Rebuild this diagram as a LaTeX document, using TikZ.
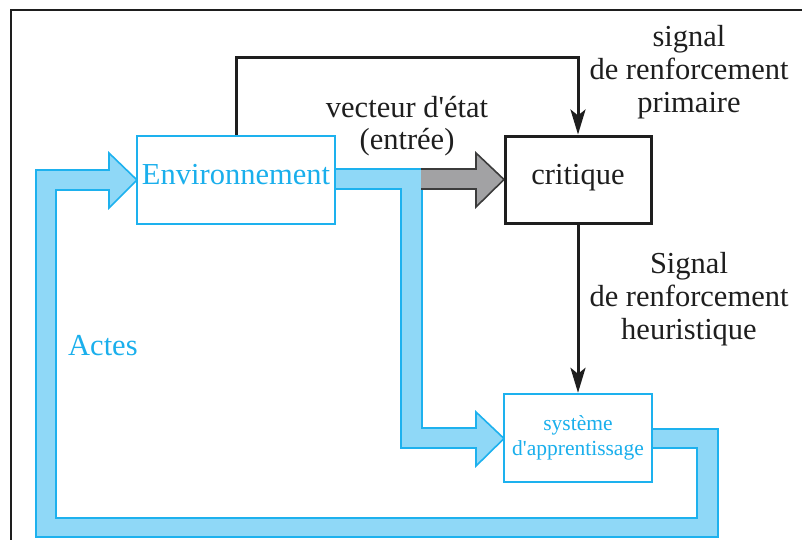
\documentclass[tikz,border=0pt]{standalone}
\usepackage{fontspec}
\setmainfont{Liberation Serif}[Ligatures=TeXOff]
\usetikzlibrary{arrows.meta}
\definecolor{cyanline}{HTML}{1DB1EE}
\definecolor{bandfill}{HTML}{8FD8F7}
\definecolor{cyantext}{HTML}{1AAFEC}
\definecolor{grayfill}{HTML}{A2A2A4}
\definecolor{grayline}{HTML}{3C3C3C}
\definecolor{ink}{HTML}{1E1E1E}
\begin{document}
\begin{tikzpicture}[x=1pt,y=-1pt,
  bigfont/.style={font=\fontsize{30.5}{32.6}\selectfont},
  smallfont/.style={font=\fontsize{21.5}{25}\selectfont},
  cbox/.style={draw=cyanline, line width=2.4pt, fill=white, inner sep=0pt, text=cyantext},
  kbox/.style={draw=ink, line width=3pt, fill=white, inner sep=0pt, text=ink},
  band/.style={fill=bandfill, draw=cyanline, line width=1.6pt, line join=miter},
  garrow/.style={draw=grayline, line width=1.6pt, line join=miter},
  sig/.style={draw=ink, line width=3pt, -{Stealth[length=25pt,width=15pt,inset=6pt]}},
  lbl/.style={bigfont, text=ink, inner sep=0pt}
]
\clip (0,0) rectangle (802,539);
% frame
\draw[ink, line width=2.4pt] (11,560) -- (11,10) -- (830,10);
% outer action loop band
\draw[band] (652,429) -- (718,429) -- (718,537) -- (36,537) -- (36,170) -- (109,170)
  -- (109,153) -- (137,180) -- (109,208) -- (109,190) -- (56,190) -- (56,518)
  -- (697,518) -- (697,448) -- (652,448) -- cycle;
% inner band towards learning system
\draw[band] (335,169) -- (422,169) -- (422,428) -- (476,428) -- (476,412) -- (504,438.5)
  -- (476,466) -- (476,448) -- (401,448) -- (401,189) -- (335,189) -- cycle;
% gray state-vector arrow
\fill[grayfill] (421.2,169) -- (476,169) -- (476,153) -- (504,179.5) -- (476,207)
  -- (476,189) -- (421.2,189) -- cycle;
\draw[garrow] (421.2,169) -- (476,169) -- (476,153) -- (504,179.5) -- (476,207)
  -- (476,189) -- (421.2,189);
% boxes
\node[cbox, bigfont, minimum width=198pt, minimum height=88pt, text height=15pt, text depth=6pt]
  (env) at (236,180) {Environnement};
\node[kbox, bigfont, minimum width=146pt, minimum height=87pt, text height=15pt, text depth=6pt]
  (crit) at (578,179.5) {critique};
\node[cbox, smallfont, minimum width=148pt, minimum height=88pt]
  (sys) at (578,438) {\begin{tabular}{@{}c@{}}système\\d'apprentissage\end{tabular}};
% signal connectors
\coordinate (corner) at (578,57);
\draw[sig] (env.north) |- (corner) -- (crit.north);
\draw[sig] (crit.south) -- (sys.north);
% labels
\node[lbl] (lprim) at (689,73) {\begin{tabular}{@{}c@{}}signal\\de renforcement\\primaire\end{tabular}};
\node[lbl] (letat) at (407,127) {\begin{tabular}{@{}c@{}}vecteur d'état\\(entrée)\end{tabular}};
\node[lbl] (lheur) at (689,300) {\begin{tabular}{@{}c@{}}Signal\\de renforcement\\heuristique\end{tabular}};
\node[bigfont, text=cyantext, anchor=base west, inner sep=0pt] (actes) at (68,355) {Actes};
\end{tikzpicture}
\end{document}
